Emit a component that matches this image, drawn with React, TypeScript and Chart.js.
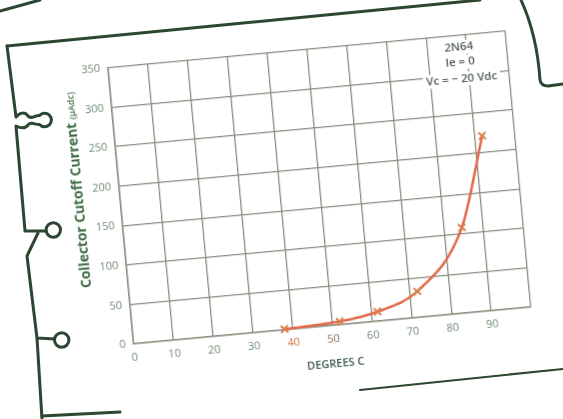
import React, { useEffect, useRef } from 'react';
import { Chart, registerables } from 'chart.js';

Chart.register(...registerables);

// ---- data ----
const temperatures = [38, 52, 61.6, 72, 84.6, 91.8];
const cutoffCurrent = [1, 4, 12, 33, 108, 221];
const xTickLabels = [0, 10, 20, 30, 40, 50, 60, 70, 80, 90];
const yTickLabels = [0, 50, 100, 150, 200, 250, 300, 350];
const xTitle = 'DEGREES C';
const yTitleMain = 'Collector Cutoff Current';
const yTitleUnit = '(µAdc)';
const noteLines = ['2N64', 'Ie = 0', 'Vc = − 20 Vdc'];
const noteYValues = [335, 316, 295];
const noteXValue = 88;

const GRID = '#898e7f';
const TICK = '#6f8c73';
const FONT = '"Open Sans", "DejaVu Sans", sans-serif';

const decorPlugin = {
  id: 'decor',
  afterDraw(chart: any) {
    const { ctx, chartArea, scales } = chart;
    ctx.save();
    // y-axis title, two sizes
    const cx = chartArea.left - 42;
    const cy = (chartArea.top + chartArea.bottom) / 2 - 17;
    ctx.translate(cx, cy);
    ctx.rotate(-Math.PI / 2);
    ctx.fillStyle = '#3f6e46';
    ctx.textBaseline = 'alphabetic';
    ctx.textAlign = 'left';
    ctx.font = `bold 13px ${FONT}`;
    const m13 = ctx.measureText(yTitleMain).width;
    const mainSize = (13 * 166) / m13;
    ctx.font = `bold ${mainSize}px ${FONT}`;
    const start = -95.5;
    ctx.fillText(yTitleMain, start, 4.5);
    ctx.font = `600 9px ${FONT}`;
    ctx.fillText(yTitleUnit, start + 169, 4.5);
    ctx.restore();

    // note in top-right
    ctx.save();
    ctx.font = `600 11.5px ${FONT}`;
    ctx.textAlign = 'center';
    ctx.textBaseline = 'middle';
    const px = scales.x.getPixelForValue(noteXValue);
    noteLines.forEach((t: string, i: number) => {
      const py = scales.y.getPixelForValue(noteYValues[i]);
      const w = ctx.measureText(t).width;
      ctx.fillStyle = '#ffffff';
      ctx.fillRect(px - w / 2 - 3, py - 7, w + 6, 14);
      ctx.fillStyle = '#535f56';
      ctx.fillText(t, px, py);
    });
    ctx.restore();
  },
};

function ChartCard() {
  const ref = useRef<HTMLCanvasElement | null>(null);
  useEffect(() => {
    if (!ref.current) return;
    const chart = new Chart(ref.current, {
      type: 'line',
      data: {
        datasets: [
          {
            data: temperatures.map((t, i) => ({ x: t, y: cutoffCurrent[i] })),
            borderColor: '#e26a4b',
            borderWidth: 2.5,
            cubicInterpolationMode: 'monotone',
            pointStyle: 'crossRot',
            pointRadius: 5,
            pointBorderWidth: 2,
            pointBorderColor: '#d9804e',
            pointBackgroundColor: '#d9804e',
            clip: false as any,
          },
        ],
      },
      options: {
        animation: false,
        responsive: false,
        layout: { padding: { left: 0, right: 60, top: 50, bottom: 0 } },
        plugins: { legend: { display: false }, tooltip: { enabled: false } },
        scales: {
          x: {
            type: 'linear',
            min: 0,
            max: 100,
            afterFit: (s: any) => {
              s.height = 50;
            },
            afterBuildTicks: (s: any) => {
              s.ticks = [...xTickLabels, 100].map((v) => ({ value: v }));
            },
            ticks: {
              autoSkip: false,
              maxRotation: 0,
              padding: 7,
              font: { family: FONT, size: 11 },
              color: (c: any) =>
                c.tick && c.tick.value === 40 ? '#d77a40' : c.tick && c.tick.value === 50 ? '#8e6d52' : TICK,
              callback: (v: any) => (xTickLabels.includes(Number(v)) ? String(v) : ''),
            },
            grid: { color: GRID, lineWidth: 1.3, drawTicks: false },
            border: { color: GRID, width: 1.5 },
            title: {
              display: true,
              text: xTitle,
              color: '#3d5a4b',
              font: { family: FONT, size: 11, weight: '600' as any },
              padding: { top: 0, bottom: 5 },
            },
          },
          y: {
            min: 0,
            max: 350,
            afterFit: (s: any) => {
              s.width = 60;
            },
            afterBuildTicks: (s: any) => {
              s.ticks = yTickLabels.map((v) => ({ value: v }));
            },
            ticks: {
              padding: 8,
              font: { family: FONT, size: 11 },
              color: TICK,
            },
            grid: { color: GRID, lineWidth: 1.3, drawTicks: false },
            border: { color: GRID, width: 1.5 },
          },
        },
      },
      plugins: [decorPlugin],
    });
    return () => chart.destroy();
  }, []);
  return (
    <div
      style={{
        position: 'absolute',
        left: 60,
        top: -1.5,
        width: 519,
        height: 377,
        transform: 'rotate(-5.3deg)',
        transformOrigin: '50% 50%',
      }}
    >
      <canvas ref={ref} width={519} height={377} style={{ width: 519, height: 377, display: 'block' }} />
    </div>
  );
}

function CardOutline() {
  const s = { fill: 'none', stroke: '#2c4631', strokeWidth: 3, strokeLinejoin: 'round' as const, strokeLinecap: 'round' as const };
  return (
    <svg width={563} height={419} style={{ position: 'absolute', left: 0, top: 0, pointerEvents: 'none' }}>
      <path d="M0,11 L40,0" {...s} />
      <path d="M7,46 L480,0" {...s} />
      <path d="M521,0 Q537,35 540,80 Q541,86 548,86 L563,84" {...s} />
      <path
        d="M7,46 L16,117 C20,112 25,112 28,116 C31,120 35,115 39.5,115.5 A6.8 6.8 0 1 1 39.5 124.5 C35,125 31,121 28,125 C25,129 20,128 16,126 L25,231 L46,231"
        {...s}
      />
      <circle cx={53.3} cy={230} r={7.2} {...s} />
      <path d="M38,233 L27,256 L37,338 L54.5,339" {...s} />
      <circle cx={61.7} cy={340} r={7.2} {...s} />
      <path d="M37,338 L42,419" {...s} />
      <path d="M42,416 L120,412" {...s} />
      <path d="M360,390 L563,369" {...s} strokeWidth={2.2} />
    </svg>
  );
}

export default function App() {
  return (
    <div
      style={{
        position: 'fixed',
        left: 0,
        top: 0,
        width: 563,
        height: 419,
        background: '#ffffff',
        overflow: 'hidden',
      }}
    >
      <ChartCard />
      <CardOutline />
    </div>
  );
}
